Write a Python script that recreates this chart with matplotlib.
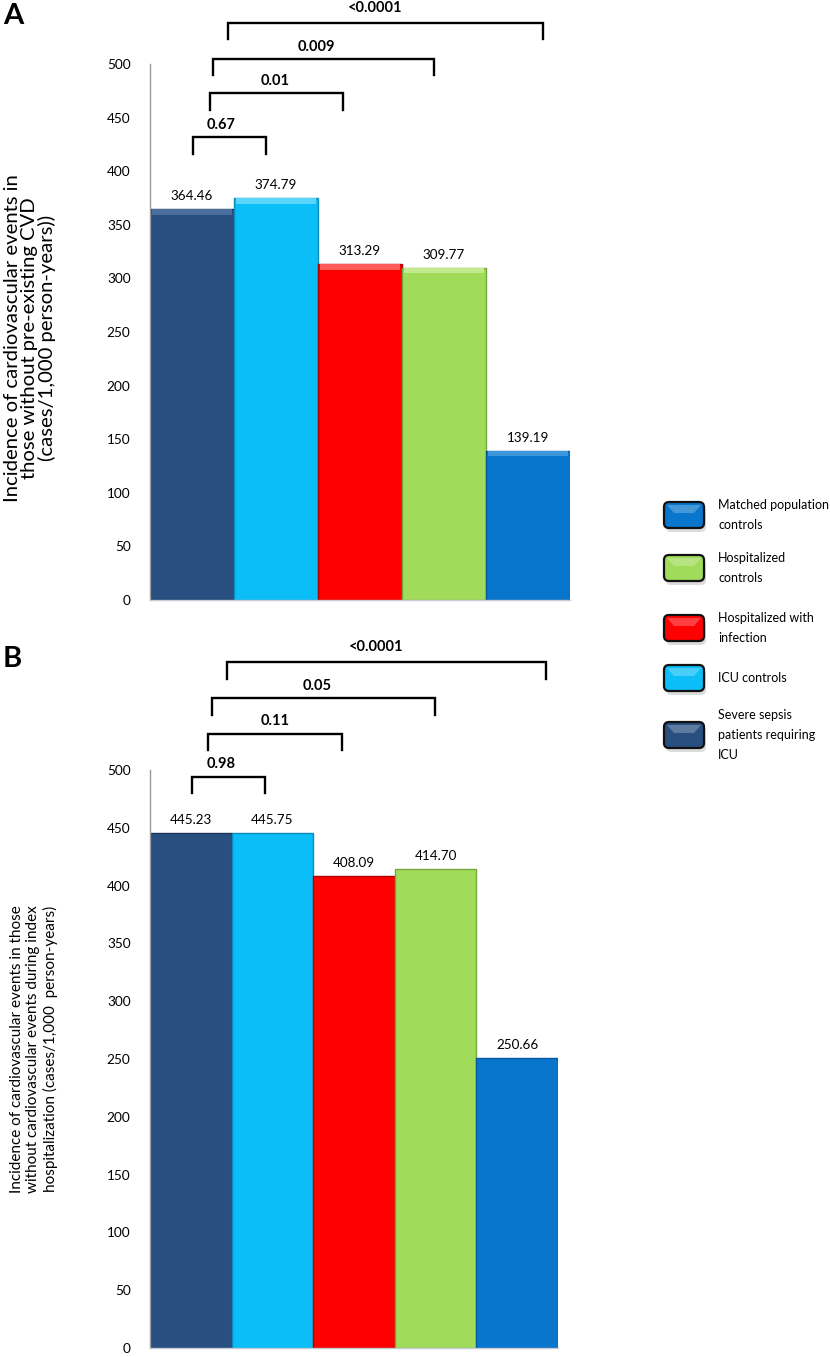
import matplotlib
matplotlib.use("Agg")
import matplotlib.pyplot as plt
from matplotlib.patches import FancyBboxPatch, Polygon
import numpy as np

plt.rcParams['font.family'] = ['Lato', 'DejaVu Sans']

# groups, in bar order (left to right)
groups = ["Severe sepsis\npatients requiring\nICU", "ICU controls",
          "Hospitalized with\ninfection", "Hospitalized\ncontrols",
          "Matched population\ncontrols"]
colors = ["#284F80", "#0BBEF8", "#FF0000", "#A0DC5A", "#0876CC"]
edges = ["#1B3558", "#0A8DB8", "#B00000", "#74A83E", "#05599C"]
tops = ["#4A6E9C", "#5AD6FB", "#FF5A5A", "#C2EA8E", "#3C97DD"]

vals_a = [364.46, 374.79, 313.29, 309.77, 139.19]
vals_b = [445.23, 445.75, 408.09, 414.70, 250.66]
labels_a = ["364.46", "374.79", "313.29", "309.77", "139.19"]
labels_b = ["445.23", "445.75", "408.09", "414.70", "250.66"]

pvals_a = ["0.67", "0.01", "0.009", "<0.0001"]
pvals_b = ["0.98", "0.11", "0.05", "<0.0001"]

yticks = [0, 50, 100, 150, 200, 250, 300, 350, 400, 450, 500]

ylabel_a = ("Incidence of cardiovascular events in\n"
            "those without pre-existing CVD\n"
            "(cases/1,000 person-years))")
ylabel_b = ("Incidence of cardiovascular events in those\n"
            "without cardiovascular events during index\n"
            "hospitalization (cases/1,000  person-years)")

# bracket layout: (x left, x right, y top, leg, text x, text y)
brk_a = [(0.01, 0.88, 432, 16, 0.35, 443),
         (0.21, 1.80, 473, 16, 0.99, 484),
         (0.25, 2.88, 505, 15, 1.48, 516),
         (0.43, 4.18, 538, 15, 2.18, 552)]
brk_b = [(0.01, 0.91, 494, 14, 0.37, 505),
         (0.21, 1.85, 531, 14, 1.03, 542),
         (0.26, 2.99, 562, 14, 1.55, 573),
         (0.44, 4.35, 593, 14, 2.27, 606)]

W, H = 830, 1357
fig = plt.figure(figsize=(W / 100, H / 100), dpi=100)
fig.patch.set_facecolor("white")


def panel(rect, vals, labs, pvals, brk, bevel):
    ax = fig.add_axes(rect)
    x = np.arange(len(vals))
    ax.bar(x, vals, width=1.0, color=colors, edgecolor=edges, linewidth=1.0)
    if bevel:
        # light chamfer along the top of each bar
        ax.bar(x, [5] * len(vals), bottom=np.array(vals) - 5, width=0.96,
               color=tops, edgecolor="none")
    for xi, v, t in zip(x, vals, labs):
        ax.annotate(t, (xi, v), xytext=(0, 5), textcoords="offset points",
                    ha="center", va="bottom", fontsize=9.7)
    for (x0, x1, yb, leg, tx, ty), p in zip(brk, pvals):
        ax.plot([x0, x0, x1, x1], [yb - leg, yb, yb, yb - leg], color="black",
                lw=1.7, clip_on=False, solid_joinstyle="miter")
        ax.text(tx, ty, p, ha="center", va="center", fontsize=10.5,
                fontweight="bold", clip_on=False)
    ax.set_xlim(-0.5, len(vals) - 0.5)
    ax.set_ylim(0, 500)
    ax.set_yticks(yticks)
    ax.set_xticks([])
    ax.tick_params(axis="y", length=0, pad=14, labelsize=9.8)
    for s in ["top", "right"]:
        ax.spines[s].set_visible(False)
    ax.spines["left"].set_color("#9A9A9A")
    ax.spines["bottom"].set_color("#C5CCD6")
    ax.spines["left"].set_linewidth(1.0)
    ax.spines["bottom"].set_linewidth(1.0)
    return ax


ax_a = panel([150 / W, 1 - 600 / H, 420 / W, 536 / H], vals_a, labels_a,
             pvals_a, brk_a, True)
ax_b = panel([150 / W, 1 - 1348 / H, 408 / W, 578 / H], vals_b, labels_b,
             pvals_b, brk_b, False)

fig.text(30 / W, 1 - 338 / H, ylabel_a, rotation=90, ha="center", va="center",
         fontsize=14.6, linespacing=0.98, multialignment="center")
fig.text(34 / W, 1 - 1049 / H, ylabel_b, rotation=90, ha="center", va="center",
         fontsize=11, linespacing=1.25, multialignment="center")

# overlay in pixel coords for panel letters and legend
ov = fig.add_axes([0, 0, 1, 1])
ov.set_xlim(0, W)
ov.set_ylim(H, 0)
ov.axis("off")
ov.patch.set_visible(False)

ov.text(3, 16, "A", fontsize=21, fontweight="bold", va="center", ha="left")
ov.text(3, 659, "B", fontsize=21, fontweight="bold", va="center", ha="left")

leg_order = [4, 3, 2, 1, 0]
leg_y = [515, 568, 628, 678, 735]
for k, yc in zip(leg_order, leg_y):
    bx, bw, bh = 664, 40, 26
    sh = FancyBboxPatch((bx + 2, yc - bh / 2 + 4), bw, bh,
                        boxstyle="round,pad=0,rounding_size=5",
                        fc="#BBBBBB", ec="none", alpha=0.5)
    ov.add_patch(sh)
    box = FancyBboxPatch((bx, yc - bh / 2), bw, bh,
                         boxstyle="round,pad=0,rounding_size=5",
                         fc=colors[k], ec="#111111", lw=1.6)
    ov.add_patch(box)
    flap = Polygon([(bx + 3, yc - bh / 2 + 3), (bx + bw - 3, yc - bh / 2 + 3),
                    (bx + bw - 10, yc - 2), (bx + 10, yc - 2)],
                   closed=True, fc="white", ec="none", alpha=0.25)
    ov.add_patch(flap)
    ov.text(718, yc, groups[k], ha="left", va="center", fontsize=9,
            linespacing=1.8)

fig.savefig("out.png", dpi=100)
